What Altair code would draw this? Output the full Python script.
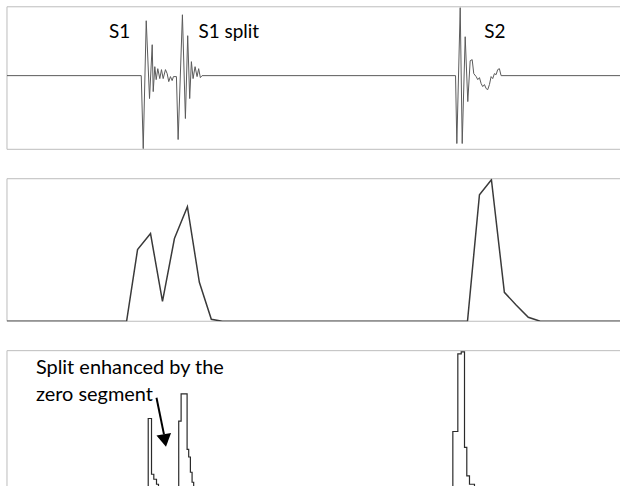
import altair as alt
import pandas as pd

# Panel 1: raw heart-sound signal (time units, amplitude)
sig_t = [0, 134.7, 136.7, 139.7, 143, 145.7, 146.7, 148.3, 149.7, 151.3, 153.3, 155, 156.7, 159, 160.7,
         162.3, 164, 165.7, 167, 170, 171.7, 176, 179, 181.3, 183.3, 185, 186.7, 188.7, 190.7, 192.3,
         194, 195.7,
         450, 451.3, 454.7, 456.7, 459.7, 462.3, 464.7, 466.7, 468.3, 470.7, 472.3, 474, 475.7, 477.3,
         479, 480.7, 482.3, 484, 485.7, 487.3, 489, 490.7, 492.3, 494, 495.7, 615]
sig_v = [0, 0, -1.06, 0.797, -0.333, 0.449, -0.232, 0.130, -0.058, 0.101, -0.043, 0.087, -0.043, 0.087, 0.029,
         -0.087, -0.014, -0.072, -0.014, -0.014, -0.928, 0.884, -0.623, 0.580, -0.333, 0.203, -0.043, 0.130,
         -0.014, 0.101, -0.029, 0,
         0, -0.986, 0.986, -0.986, 0.565, -0.377, 0.217, 0.232, 0.029, -0.014, -0.058, -0.029, -0.116, -0.159,
         -0.130, -0.188, -0.203, -0.130, -0.014, -0.043, 0.029, 0.014, 0.087, 0.101, 0, 0]

# Panel 2: envelope
env_t = [0, 120, 131, 144, 156, 168, 181, 193, 205, 216, 462, 474, 486, 499, 511, 523, 535, 615]
env_v = [0, 0, 0.503, 0.615, 0.140, 0.580, 0.804, 0.273, 0.014, 0, 0, 0.888, 0.993, 0.203, 0.112, 0.028, 0, 0]

# Panel 3: segmented (step) envelope
seg_t = [0, 141.7, 145, 147.3, 150, 152, 172.3, 174.7, 180.7, 182.3, 184, 185.7, 187.3,
         447.3, 452.3, 455.7, 459, 461.3, 464, 469, 474.7, 487.3, 615]
seg_v = [0, 0.524, 0.133, 0.098, 0.063, 0, 0.506, 0.697, 0.308, 0.254, 0.147, 0.077, 0,
         0.433, 0.977, 0.991, 0.322, 0.121, 0.063, 0.023, 0.030, 0, 0]

# Labels
lab1_text = ["S1", "S1 split", "S2"]
lab1_t = [113, 222.5, 489.5]
lab1_v = [0.551, 0.551, 0.551]

lab3_text = ["Split enhanced by the", "zero segment"]
lab3_t = [29, 29]
lab3_v = [0.837, 0.645]

arrow_t = [150, 157.5]
arrow_v = [0.67, 0.413]
head_t = [158.4]
head_v = [0.37]

W = 615
H = 143
H3 = 140
FONT = "Lato"
BORDER = "#bdbdbd"
xs = alt.Scale(domain=[0, W], nice=False, zero=False)

sig = pd.DataFrame({"t": sig_t, "v": sig_v})
env = pd.DataFrame({"t": env_t, "v": env_v})
seg = pd.DataFrame({"t": seg_t, "v": seg_v})
l1 = pd.DataFrame({"t": lab1_t, "v": lab1_v, "s": lab1_text})
l3 = pd.DataFrame({"t": lab3_t, "v": lab3_v, "s": lab3_text})
arr = pd.DataFrame({"t": arrow_t, "v": arrow_v})
hd = pd.DataFrame({"t": head_t, "v": head_v})


def frame(h, bottom=True):
    base = alt.Chart(pd.DataFrame({"a": [0]}))
    parts = [
        base.mark_rule(color=BORDER, strokeWidth=1).encode(x=alt.value(0), y=alt.value(0), y2=alt.value(h)),
        base.mark_rule(color=BORDER, strokeWidth=1).encode(x=alt.value(0), x2=alt.value(W), y=alt.value(0)),
    ]
    if bottom:
        parts.append(base.mark_rule(color=BORDER, strokeWidth=1).encode(
            x=alt.value(0), x2=alt.value(W), y=alt.value(h)))
    return parts


y1 = alt.Scale(domain=[-1.07, 1.0], nice=False, zero=False)
p1_line = alt.Chart(sig).mark_line(color="#5a5a5a", strokeWidth=1, clip=True).encode(
    x=alt.X("t:Q", scale=xs, axis=None),
    y=alt.Y("v:Q", scale=y1, axis=None),
    order="t:Q",
)
p1_text = alt.Chart(l1).mark_text(font=FONT, fontSize=19, color="#000", align="center",
                                  baseline="alphabetic").encode(
    x=alt.X("t:Q", scale=xs, axis=None),
    y=alt.Y("v:Q", scale=y1, axis=None),
    text="s:N",
)
p1 = alt.layer(*frame(H), p1_line, p1_text).properties(width=W, height=H)

y2 = alt.Scale(domain=[0, 1], nice=False)
p2_line = alt.Chart(env).mark_line(color="#3a3a3a", strokeWidth=1.5, clip=True).encode(
    x=alt.X("t:Q", scale=xs, axis=None),
    y=alt.Y("v:Q", scale=y2, axis=None),
    order="t:Q",
)
p2 = alt.layer(*frame(H), p2_line).properties(width=W, height=H)

y3 = alt.Scale(domain=[0.021, 1], nice=False, zero=False)
p3_line = alt.Chart(seg).mark_line(color="#2a2a2a", strokeWidth=1.2, interpolate="step-after", clip=True).encode(
    x=alt.X("t:Q", scale=xs, axis=None),
    y=alt.Y("v:Q", scale=y3, axis=None),
    order="t:Q",
)
p3_text = alt.Chart(l3).mark_text(font=FONT, fontSize=20, color="#000", align="left",
                                  baseline="alphabetic").encode(
    x=alt.X("t:Q", scale=xs, axis=None),
    y=alt.Y("v:Q", scale=y3, axis=None),
    text="s:N",
)
p3_arrow = alt.Chart(arr).mark_line(color="#000", strokeWidth=2).encode(
    x=alt.X("t:Q", scale=xs, axis=None),
    y=alt.Y("v:Q", scale=y3, axis=None),
)
p3_head = alt.Chart(hd).mark_point(shape="triangle-down", filled=True, color="#000", opacity=1,
                                   size=220, angle=350).encode(
    x=alt.X("t:Q", scale=xs, axis=None),
    y=alt.Y("v:Q", scale=y3, axis=None),
)
p3 = alt.layer(*frame(H3, bottom=False), p3_line, p3_arrow, p3_head, p3_text).properties(width=W, height=H3)

chart = alt.vconcat(p1, p2, p3, spacing=27.5).properties(
    padding={"left": 6, "top": 5, "right": 0, "bottom": 0},
    background="white",
).configure_view(strokeWidth=0)

chart.save("out.html", embed_options={"renderer": "svg", "actions": False})
